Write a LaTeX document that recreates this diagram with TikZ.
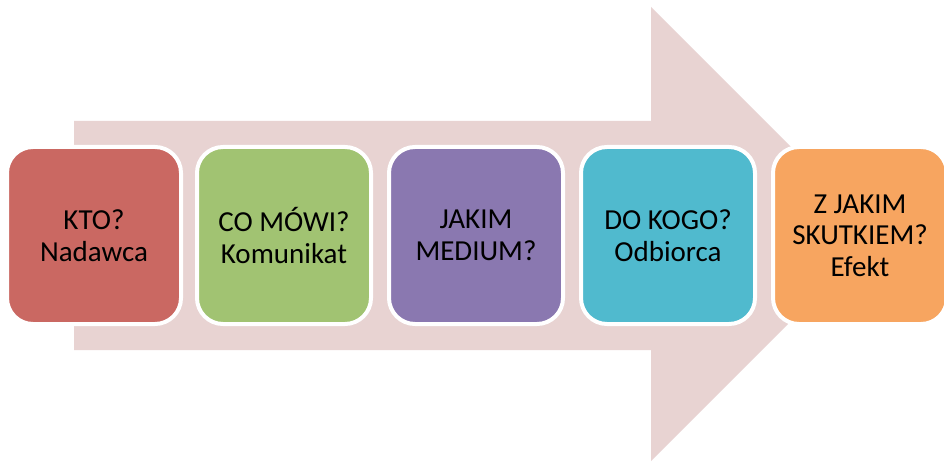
\documentclass[tikz,border=0pt]{standalone}
\usepackage{fontspec}
\setmainfont{Carlito}
\definecolor{arrowfill}{HTML}{E8D3D2}
\definecolor{cred}{HTML}{CA6862}
\definecolor{cgreen}{HTML}{A1C372}
\definecolor{cpurple}{HTML}{8A78B0}
\definecolor{ccyan}{HTML}{50BACE}
\definecolor{corange}{HTML}{F7A560}
\begin{document}
\begin{tikzpicture}[x=1pt,y=-1pt,
  stagebox/.style={draw=white, line width=4pt, rounded corners=26pt,
    minimum width=174pt, minimum height=177pt, inner sep=0pt,
    align=center, text=black, font=\fontsize{29}{31.5}\selectfont}]
  \clip (0,0) rectangle (944,462);
  \fill[white] (0,0) rectangle (944,462);
  % background flow arrow
  \fill[arrowfill] (74,121) -- (651,121) -- (651,7) -- (878,234)
    -- (651,461) -- (651,350) -- (74,350) -- cycle;
  % stages
  \node[stagebox, fill=cred]    (kto)   at (94,235.5)  {KTO?\\Nadawca};
  \node[stagebox, fill=cgreen]  (co)    at (284,235.5) {CO MÓWI?\\Komunikat};
  \node[stagebox, fill=cpurple] (jakim) at (476,235.5) {JAKIM\\MEDIUM?};
  \node[stagebox, fill=ccyan]   (kogo)  at (668,235.5) {DO KOGO?\\Odbiorca};
  \node[stagebox, fill=corange] (efekt) at (860,235.5) {Z JAKIM\\SKUTKIEM?\\Efekt};
\end{tikzpicture}
\end{document}
